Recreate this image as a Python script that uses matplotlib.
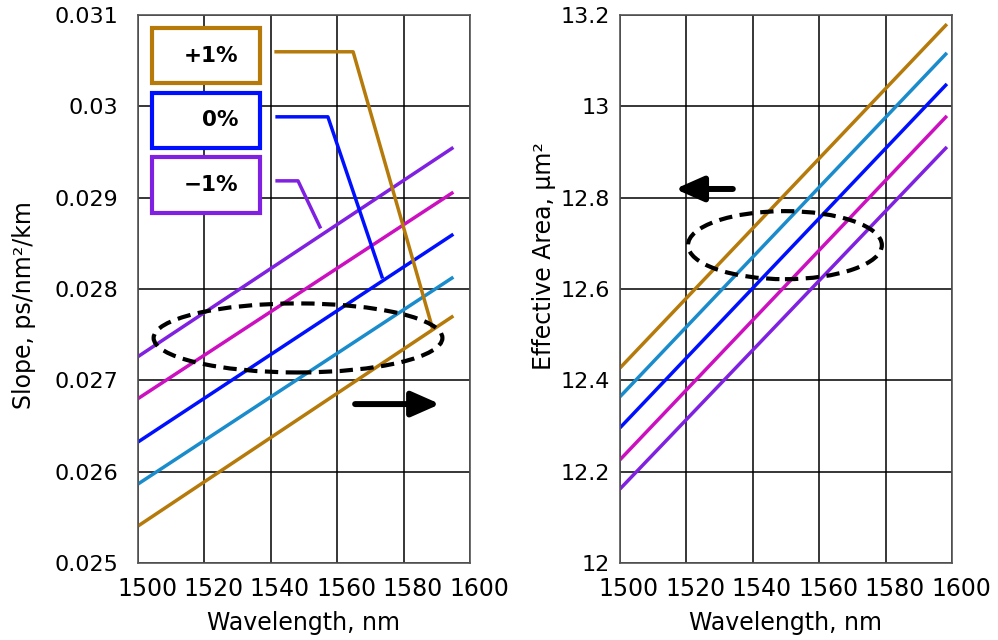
import matplotlib
matplotlib.use("Agg")
import matplotlib.pyplot as plt
from matplotlib.patches import Ellipse, Rectangle
from matplotlib.transforms import ScaledTranslation

plt.rcParams['font.family'] = ['DejaVu Sans']

# ---- data ----
wl_left = [1500, 1595]
wl_right = [1500, 1598.5]
colors = ["#8020e0", "#cc10c0", "#0010ff", "#1a8ccc", "#b57a0a"]
slope_vals = [
    [0.02726, 0.02955],
    [0.02680, 0.02906],
    [0.026325, 0.02860],
    [0.025865, 0.02813],
    [0.025405, 0.027705],
]
area_vals = [
    [12.162, 12.911],
    [12.226, 12.979],
    [12.296, 13.049],
    [12.364, 13.117],
    [12.427, 13.180],
]
x_ticks = [1500, 1520, 1540, 1560, 1580, 1600]
slope_ticks = [0.025, 0.026, 0.027, 0.028, 0.029, 0.03, 0.031]
slope_ticklabels = ["0.025", "0.026", "0.027", "0.028", "0.029", "0.03", "0.031"]
area_ticks = [12.0, 12.2, 12.4, 12.6, 12.8, 13.0, 13.2]
area_ticklabels = ["12", "12.2", "12.4", "12.6", "12.8", "13", "13.2"]

legend_labels = ["+1%", "0%", "\u22121%"]
legend_colors = ["#b57a0a", "#0010ff", "#8020e0"]
# connector polylines (data coords of left chart)
conn_x = [[1541.6, 1564.8, 1588.6], [1541.9, 1557.2, 1573.5], [1541.9, 1548.2, 1554.8]]
conn_y = [[0.030597, 0.030597, 0.027585], [0.029885, 0.029885, 0.028133], [0.029184, 0.029184, 0.02868]]

fig = plt.figure(figsize=(9.98, 6.4), dpi=100)
axL = fig.add_axes([0.1383, 0.1203, 0.3326, 0.8563])
axR = fig.add_axes([0.6212, 0.1203, 0.3326, 0.8563])

shift = ScaledTranslation(9 / 100, 0, fig.dpi_scale_trans)
for ax, vals, wl, yt, ytl, ylim, ypad in [
    (axL, slope_vals, wl_left, slope_ticks, slope_ticklabels, (0.025, 0.031), 14),
    (axR, area_vals, wl_right, area_ticks, area_ticklabels, (12.0, 13.2), 7),
]:
    ax.set_xlim(1500, 1600)
    ax.set_ylim(*ylim)
    ax.set_xticks(x_ticks)
    ax.set_yticks(yt)
    ax.set_yticklabels(ytl)
    ax.grid(True, color="black", lw=1.1)
    ax.set_axisbelow(True)
    ax.tick_params(length=0)
    ax.tick_params(axis='x', pad=10, labelsize=17)
    ax.tick_params(axis='y', pad=ypad, labelsize=16)
    for lab in ax.get_xticklabels():
        lab.set_transform(lab.get_transform() + shift)
    for s in ax.spines.values():
        s.set_color("#555555")
        s.set_linewidth(1.2)
    for v, c in zip(vals, colors):
        ax.plot(wl, v, color=c, lw=2.5, solid_capstyle='butt')
    ax.set_xlabel("Wavelength, nm", fontsize=17, labelpad=7)

fig.text(24 / 998, 1 - 305 / 640, "Slope, ps/nm\u00b2/km", rotation=90,
         ha="center", va="center", fontsize=17)
fig.text(544 / 998, 1 - 256 / 640, "Effective Area, \u03bcm\u00b2", rotation=90,
         ha="center", va="center", fontsize=17)

# legend boxes
box_y = [(0.876, 0.976), (0.757, 0.858), (0.639, 0.741)]
for (y0, y1), lab, c in zip(box_y, legend_labels, legend_colors):
    axL.add_patch(Rectangle((0.042, y0), 0.325, y1 - y0, transform=axL.transAxes,
                            facecolor="white", edgecolor=c, lw=3, zorder=5))
    axL.text(0.301, (y0 + y1) / 2, lab, transform=axL.transAxes, ha="right", va="center",
             fontsize=15.5, fontweight="bold", zorder=6)
for xs, ys, c in zip(conn_x, conn_y, legend_colors):
    axL.plot(xs, ys, color=c, lw=2.5, zorder=4)

# ellipses
axL.add_patch(Ellipse((1548.2, 0.027464), 87, 0.000756, fill=False, ls=(0, (3.2, 1.8)),
                      lw=3, edgecolor="black", zorder=6))
axR.add_patch(Ellipse((1549.7, 12.696), 58.4, 0.149, fill=False, ls=(0, (3.2, 1.8)),
                      lw=3, edgecolor="black", zorder=6))

# arrows
arrow_props = dict(arrowstyle="-|>,head_length=1.7,head_width=0.75", lw=4.3, color="black",
                   shrinkA=0, shrinkB=0)
axL.annotate("", xy=(1591, 0.02674), xytext=(1565.4, 0.02674), arrowprops=arrow_props)
axR.annotate("", xy=(1516.6, 12.819), xytext=(1534, 12.819), arrowprops=arrow_props)

fig.savefig("out.png", dpi=100)
